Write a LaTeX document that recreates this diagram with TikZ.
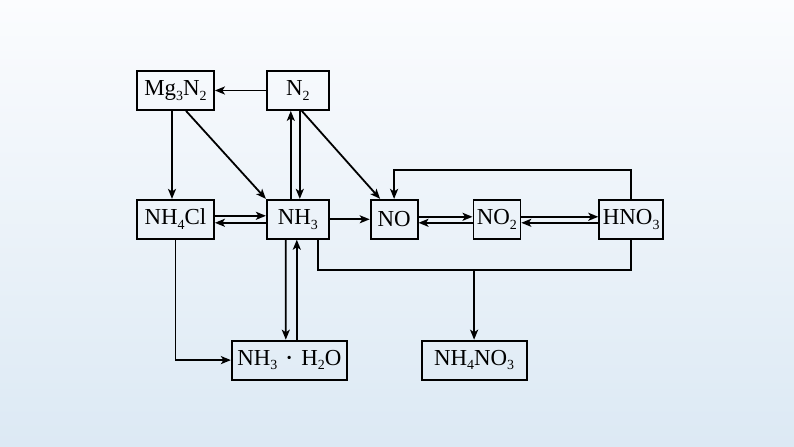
\documentclass[tikz,border=0pt]{standalone}
\usepackage{fontspec}
\setmainfont{Liberation Serif}
\usepackage{tikz}
\usetikzlibrary{arrows.meta,calc,positioning}

\definecolor{bgtop}{RGB}{251,252,254}
\definecolor{bgmid}{RGB}{228,236,246}
\definecolor{bgbot}{RGB}{220,233,244}
\newcommand{\subn}[1]{\raisebox{-0.2em}{\fontsize{14}{14}\selectfont#1}}
\newcommand{\hdot}{\,\raisebox{0.14em}{\scalebox{0.6}{\textbullet}}\,}

\begin{document}
\begin{tikzpicture}[x=1bp,y=-1bp,>={Stealth[length=10bp,width=8bp,inset=2.5bp]},
    line width=1.8bp,node distance=88bp and 51bp,
    chem/.style={draw,rectangle,inner sep=0pt,minimum height=39bp,font=\fontsize{23}{26}\selectfont}]
    \shade[top color=bgtop,middle color=bgmid,bottom color=bgbot,draw=none] (0,0) rectangle (794,447);
    \useasboundingbox (0,0) rectangle (794,447);
			\node[chem,minimum width=77bp] (mg) at (175.5,90.5) {Mg\subn{3}N\subn{2}};
			\node[chem,minimum width=62bp] [right=of mg] (n2) {N\subn{2}};
			\node[chem,minimum width=77bp] [below=of mg] (nh4cl) {NH\subn{4}Cl};
			\node[chem,minimum width=62bp] [below=of n2] (nh3) {NH\subn{3}};
			\node[chem,minimum width=47bp] [right=40bp of nh3] (no) {NO};
			\node[chem,minimum width=47bp] [right=54bp of no] (no2) {NO\subn{2}};
			\node[chem,minimum width=64bp] [right=77bp of no2] (hno3) {HNO\subn{3}};
			\node[chem,minimum width=115bp] [below=100bp of nh3,xshift=-8.5bp] (hyd) {NH\subn{3} \hdot{} H\subn{2}O};
			\node[chem,minimum width=105bp] [right=73bp of hyd] (nitrate) {NH\subn{4}NO\subn{3}};
			% arrows from the top row
			\draw[->] (n2) -- (mg);
			\draw[->] ([xshift=-3.5bp]mg.south) -- ([xshift=-3.5bp]nh4cl.north);
			\draw[->] ([xshift=10.5bp]mg.south) -- (nh3.north west);
			\draw[->] ([xshift=-7bp]nh3.north) -- ([xshift=-7bp]n2.south);
			\draw[->] ([xshift=2bp]n2.south) -- ([xshift=2bp]nh3.north);
			\draw[->] ([xshift=4bp]n2.south) -- ([xshift=-14bp]no.north);
			% middle row
			\draw[->] ([yshift=3.5bp]nh4cl.east) -- ([yshift=3.5bp]nh3.west);
			\draw[->] ([yshift=-3.5bp]nh3.west) -- ([yshift=-3.5bp]nh4cl.east);
			\draw[->] (nh3) -- (no);
			\draw[->] ([yshift=2.5bp]no.east) -- ([yshift=2.5bp]no2.west);
			\draw[->] ([yshift=-3.5bp]no2.west) -- ([yshift=-3.5bp]no.east);
			\draw[->] ([yshift=2.5bp]no2.east) -- ([yshift=2.5bp]hno3.west);
			\draw[->] ([yshift=-3.5bp]hno3.west) -- ([yshift=-3.5bp]no2.east);
			\draw[->] (hno3.north) -- ++(0,-29) -| (no.north);
			% lower part
			\coordinate (low) at ([xshift=20bp,yshift=-30bp]nh3.south);
			\draw ([xshift=20bp]nh3.south) -- (low) -| (hno3.south);
			\draw[->] (nitrate.north |- low) -- (nitrate.north);
			\draw[->] ([xshift=-12bp]nh3.south) -- ([xshift=-3.5bp]hyd.north);
			\draw[->] ([xshift=7.5bp]hyd.north) -- ([xshift=-1bp]nh3.south);
			\draw[->] (nh4cl.south) |- (hyd.west);
		\end{tikzpicture}
\end{document}
